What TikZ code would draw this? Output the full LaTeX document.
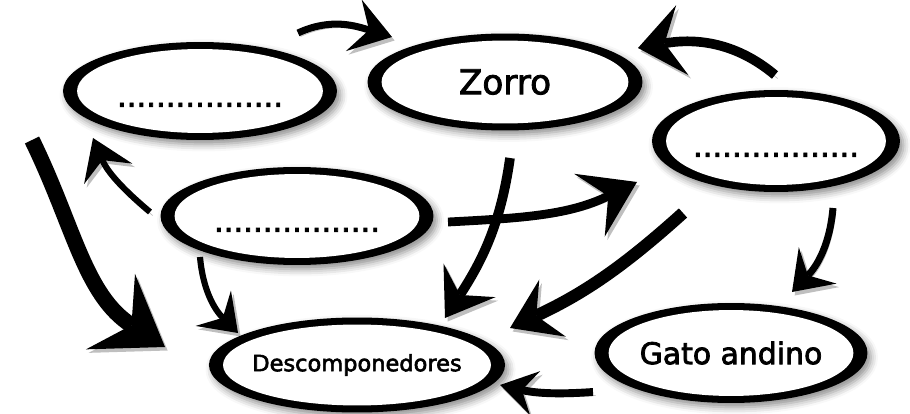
\documentclass[tikz,border=0pt]{standalone}
\usepackage{fontspec}
\setmainfont{DejaVu Sans}[FakeBold=2.5]
\usetikzlibrary{shapes.geometric,arrows.meta,shadows.blur,calc}
\begin{document}
\begin{tikzpicture}[x=0.02cm, y=0.02cm]
\tikzstyle{ring} = [ellipse, inner sep=0pt, fill=black, font=\fontsize{17.5}{20}\selectfont,
  blur shadow={shadow xshift=2pt, shadow yshift=-2.5pt, shadow blur radius=4pt, shadow opacity=45},
  path picture={\fill[white] let \p1=(path picture bounding box.north east), \p2=(path picture bounding box.center)
    in (\p2) ellipse [x radius={\x1-\x2-8pt}, y radius={\y1-\y2-4pt}];}]
\tikzstyle{blank} = [text height=18pt, text depth=0pt]
\tikzstyle{arr} = [preaction={draw=black, opacity=.25, transform canvas={shift={(1.5pt,-2pt)}}}]
\useasboundingbox (0,0) rectangle (910,413);
\node (A) [ring, blank, minimum width=5.48cm, minimum height=1.96cm] at (200,322) {.................};
\node (Z) [ring, font=\fontsize{19.5}{22}\selectfont, minimum width=5.5cm, minimum height=1.94cm] at (505,331) {Zorro};
\node (C) [ring, blank, minimum width=4.96cm, minimum height=2.04cm] at (776,272) {.................};
\node (D) [ring, blank, minimum width=5.46cm, minimum height=1.96cm] at (297,197) {.................};
\node (E) [ring, font=\fontsize{12.8}{15}\selectfont, minimum width=5.46cm, minimum height=1.9cm] at (357,48) {Descomponedores};
\node (G) [ring, font=\fontsize{17}{20}\selectfont, minimum width=5.46cm, minimum height=2cm] at (731,60) {Gato andino};
\draw [arr, line width=4pt, -{Stealth[length=.8cm, width=1.08cm, inset=.32cm, line width=0pt]}] ([shift={(98,58)}]A.center) to[out=25, in=163] ([shift={(-113,45)}]Z.center);
\draw [arr, line width=5.5pt, -{Stealth[length=.9cm, width=1.42cm, inset=.36cm, line width=0pt]}] ([shift={(-1,66)}]C.center) to[out=140, in=10] ([shift={(133,34)}]Z.center);
\draw [arr, line width=9pt, -{Stealth[length=1.3cm, width=1.8cm, inset=.5cm, line width=0pt]}] ([shift={(-168,-49)}]A.center) to[out=-64, in=147] ([shift={(-192,18)}]E.center);
\draw [arr, line width=3.5pt, -{Stealth[length=.78cm, width=1.05cm, inset=.3cm, line width=0pt]}] ([shift={(-147,4)}]D.center) to[out=140, in=-67] ([shift={(-107,-47)}]A.center);
\draw [arr, line width=3.5pt, -{Stealth[length=.7cm, width=1cm, inset=.27cm, line width=0pt]}] ([shift={(-97,-41)}]D.center) to[out=-85, in=135] ([shift={(-119,32)}]E.center);
\draw [arr, line width=5.5pt, -{Stealth[length=.9cm, width=1.24cm, inset=.35cm, line width=0pt]}] ([shift={(5,-76)}]Z.center) to[out=262, in=57] ([shift={(88,47)}]E.center);
\draw [arr, line width=5pt, -{Stealth[length=1.06cm, width=1.4cm, inset=.42cm, line width=0pt]}] ([shift={(151,-6)}]D.center) to[out=3, in=206] ([shift={(-139,-41)}]C.center);
\draw [arr, line width=7pt, -{Stealth[length=.94cm, width=1.26cm, inset=.36cm, line width=0pt]}] ([shift={(-93,-72)}]C.center) to[out=222, in=25] ([shift={(153,37)}]E.center);
\draw [arr, line width=4pt, -{Stealth[length=.74cm, width=1.05cm, inset=.28cm, line width=0pt]}] ([shift={(57,-67)}]C.center) to[out=265, in=46] ([shift={(61,61)}]G.center);
\draw [arr, line width=4.5pt, -{Stealth[length=.72cm, width=.9cm, inset=.27cm, line width=0pt]}] ([shift={(-138,-39)}]G.center) to[out=184, in=-13] ([shift={(143,-20)}]E.center);
\end{tikzpicture}
\end{document}
